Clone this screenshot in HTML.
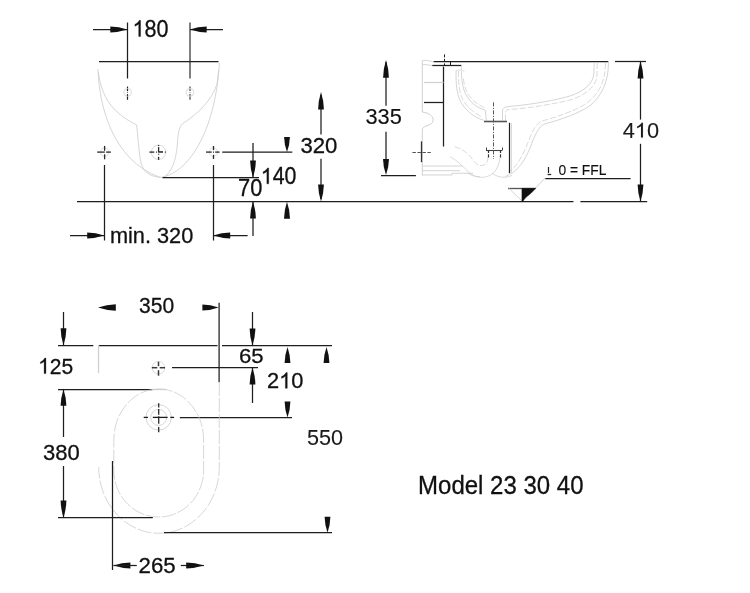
<!DOCTYPE html>
<html><head><meta charset="utf-8"><style>
html,body{margin:0;padding:0;background:#fff;}
body{width:750px;height:593px;overflow:hidden;position:relative;}
svg{position:absolute;left:0;top:0;will-change:transform;}
text{font-family:"Liberation Sans",sans-serif;}
</style></head><body>
<svg width="750" height="593" viewBox="0 0 750 593">
<rect width="750" height="593" fill="#fff"/>
<line x1="93" y1="29.5" x2="127" y2="29.5" stroke="#1e1e1e" stroke-width="1.25" />
<path d="M127.30 29.50 Q118.80 32.26 110.30 32.40 L110.30 26.60 Q118.80 26.75 127.30 29.50Z" fill="#111"/>
<line x1="190" y1="29.5" x2="223" y2="29.5" stroke="#1e1e1e" stroke-width="1.25" />
<path d="M189.70 29.50 Q198.20 32.26 206.70 32.40 L206.70 26.60 Q198.20 26.75 189.70 29.50Z" fill="#111"/>
<line x1="127.5" y1="22.5" x2="127.5" y2="78.5" stroke="#1e1e1e" stroke-width="1.25" />
<line x1="190" y1="22.5" x2="190" y2="78.5" stroke="#333" stroke-width="1.25" />
<line x1="127.5" y1="86.6" x2="127.5" y2="91.1" stroke="#1e1e1e" stroke-width="1.2" />
<line x1="127.5" y1="92" x2="127.5" y2="93" stroke="#777" stroke-width="1.0" />
<line x1="127.5" y1="94.1" x2="127.5" y2="99.8" stroke="#1e1e1e" stroke-width="1.2" />
<line x1="190" y1="86.6" x2="190" y2="91.1" stroke="#444" stroke-width="1.2" />
<line x1="190" y1="92" x2="190" y2="93" stroke="#888" stroke-width="1.0" />
<line x1="190" y1="94.1" x2="190" y2="99.8" stroke="#444" stroke-width="1.2" />
<line x1="99" y1="61.5" x2="218.5" y2="61.5" stroke="#1e1e1e" stroke-width="1.25" />
<circle cx="127.6" cy="92.4" r="3.9" stroke="#d8d8d8" stroke-width="0.9" fill="none"/>
<circle cx="190" cy="92.4" r="3.9" stroke="#d8d8d8" stroke-width="0.9" fill="none"/>
<path d="M98 69 C99 105 112 160 160 177.4" stroke="#d0d0d0" stroke-width="0.9" fill="none" />
<path d="M98.3 72 C99.5 82 103 95 110 104 C116 112 126 120 136.5 124.8 C137.5 130 138.5 150 140.5 160 C142 170 148 177 161.8 177.4" stroke="#d0d0d0" stroke-width="0.9" fill="none" />
<path d="M161 177.4 C192 172 216 125 219.4 63" stroke="#d0d0d0" stroke-width="0.9" fill="none" />
<path d="M164 177.2 C172 172 176 160 177.3 145 C178 135 178.5 128 182.3 123.8 C198 114 212 100 217 84 L218.7 70" stroke="#d0d0d0" stroke-width="0.9" fill="none" />
<circle cx="104.6" cy="152.1" r="4.2" stroke="#dadada" stroke-width="0.9" fill="none"/>
<circle cx="213.5" cy="152.1" r="4.2" stroke="#dadada" stroke-width="0.9" fill="none"/>
<circle cx="158.6" cy="152.3" r="7.2" stroke="#d6d6d6" stroke-width="0.9" fill="none"/>
<line x1="97.19999999999999" y1="152.1" x2="104.8" y2="152.1" stroke="#2a2a2a" stroke-width="1.3" />
<line x1="106.1" y1="152.1" x2="110.89999999999999" y2="152.1" stroke="#2a2a2a" stroke-width="1.3" />
<line x1="104.6" y1="145.9" x2="104.6" y2="150.79999999999998" stroke="#2a2a2a" stroke-width="1.3" />
<line x1="104.6" y1="154.29999999999998" x2="104.6" y2="159.29999999999998" stroke="#2a2a2a" stroke-width="1.3" />
<line x1="206.0" y1="152.1" x2="211.7" y2="152.1" stroke="#2a2a2a" stroke-width="1.3" />
<line x1="213.0" y1="152.1" x2="214.0" y2="152.1" stroke="#2a2a2a" stroke-width="1.3" />
<line x1="215.2" y1="152.1" x2="219.6" y2="152.1" stroke="#2a2a2a" stroke-width="1.3" />
<line x1="213.5" y1="146.0" x2="213.5" y2="150.1" stroke="#2a2a2a" stroke-width="1.3" />
<line x1="213.5" y1="154.79999999999998" x2="213.5" y2="159.0" stroke="#2a2a2a" stroke-width="1.3" />
<line x1="149.4" y1="152.1" x2="154.29999999999998" y2="152.1" stroke="#2a2a2a" stroke-width="1.3" />
<line x1="156.1" y1="152.1" x2="157.1" y2="152.1" stroke="#2a2a2a" stroke-width="1.3" />
<line x1="158.29999999999998" y1="152.1" x2="163.0" y2="152.1" stroke="#2a2a2a" stroke-width="1.3" />
<line x1="164.79999999999998" y1="152.1" x2="165.79999999999998" y2="152.1" stroke="#2a2a2a" stroke-width="1.3" />
<line x1="158.6" y1="144.9" x2="158.6" y2="145.9" stroke="#2a2a2a" stroke-width="1.3" />
<line x1="158.6" y1="147.1" x2="158.6" y2="152.1" stroke="#2a2a2a" stroke-width="1.3" />
<line x1="158.6" y1="153.7" x2="158.6" y2="154.7" stroke="#2a2a2a" stroke-width="1.3" />
<line x1="158.6" y1="156.79999999999998" x2="158.6" y2="159.79999999999998" stroke="#2a2a2a" stroke-width="1.3" />
<line x1="158.6" y1="151.5" x2="163.0" y2="151.5" stroke="#2a2a2a" stroke-width="0.6" />
<line x1="222.2" y1="152" x2="292.3" y2="152" stroke="#1e1e1e" stroke-width="1.25" />
<line x1="162.5" y1="177.5" x2="259" y2="177.5" stroke="#1e1e1e" stroke-width="1.25" />
<line x1="104.5" y1="165" x2="104.5" y2="240.5" stroke="#1e1e1e" stroke-width="1.25" />
<line x1="213.5" y1="165" x2="213.5" y2="240.5" stroke="#1e1e1e" stroke-width="1.25" />
<line x1="77" y1="201.5" x2="573.5" y2="201.5" stroke="#1e1e1e" stroke-width="1.25" />
<line x1="580.4" y1="201.5" x2="647.2" y2="201.5" stroke="#1e1e1e" stroke-width="1.25" />
<line x1="70" y1="235.5" x2="104" y2="235.5" stroke="#1e1e1e" stroke-width="1.25" />
<path d="M104.20 235.50 Q95.70 238.25 87.20 238.40 L87.20 232.60 Q95.70 232.75 104.20 235.50Z" fill="#111"/>
<line x1="213" y1="235.5" x2="247.6" y2="235.5" stroke="#1e1e1e" stroke-width="1.25" />
<path d="M213.20 235.50 Q221.70 238.25 230.20 238.40 L230.20 232.60 Q221.70 232.75 213.20 235.50Z" fill="#111"/>
<line x1="253" y1="143" x2="253" y2="177" stroke="#1e1e1e" stroke-width="1.25" />
<path d="M253.00 177.50 Q255.75 169.00 255.90 160.50 L250.10 160.50 Q250.25 169.00 253.00 177.50Z" fill="#111"/>
<line x1="253" y1="202" x2="253" y2="236" stroke="#1e1e1e" stroke-width="1.25" />
<path d="M253.00 201.50 Q255.75 210.00 255.90 218.50 L250.10 218.50 Q250.25 210.00 253.00 201.50Z" fill="#111"/>
<path d="M287.00 152.00 Q289.75 144.50 289.90 137.00 L284.10 137.00 Q284.25 144.50 287.00 152.00Z" fill="#111"/>
<path d="M287.00 201.80 Q289.85 210.30 290.00 218.80 L284.00 218.80 Q284.15 210.30 287.00 201.80Z" fill="#111"/>
<line x1="321" y1="95" x2="321" y2="134.5" stroke="#1e1e1e" stroke-width="1.25" />
<path d="M321.00 92.10 Q323.75 100.80 323.90 109.50 L318.10 109.50 Q318.25 100.80 321.00 92.10Z" fill="#111"/>
<line x1="321" y1="158.8" x2="321" y2="199" stroke="#1e1e1e" stroke-width="1.25" />
<path d="M321.00 201.50 Q323.75 193.00 323.90 184.50 L318.10 184.50 Q318.25 193.00 321.00 201.50Z" fill="#111"/>
<text x="0" y="36.56" font-size="23.66" fill="#111" stroke="#111" stroke-width="0.3" transform="translate(132.55 0) scale(0.911 1)"> 80</text>
<path d="M763 0L583 0L583 1098Q518 1039 412 980Q306 920 222 890L222 1057Q373 1125 486 1221Q599 1318 646 1409L763 1409Z" fill="#111" stroke="#111" stroke-width="26.0" transform="translate(132.55 36.56) scale(0.01053 -0.01155)"/>
<text x="0" y="153.18" font-size="21.97" fill="#111" stroke="#111" stroke-width="0.3" transform="translate(300.41 0) scale(1.008 1)">320</text>
<text x="0" y="183.87" font-size="23.24" fill="#111" stroke="#111" stroke-width="0.3" transform="translate(260.77 0) scale(0.919 1)"> 40</text>
<path d="M763 0L583 0L583 1098Q518 1039 412 980Q306 920 222 890L222 1057Q373 1125 486 1221Q599 1318 646 1409L763 1409Z" fill="#111" stroke="#111" stroke-width="26.4" transform="translate(260.77 183.87) scale(0.01043 -0.01135)"/>
<text x="0" y="195.66" font-size="23.52" fill="#111" stroke="#111" stroke-width="0.3" transform="translate(238.11 0) scale(0.929 1)">70</text>
<text x="0" y="242.77" font-size="22.54" fill="#111" stroke="#111" stroke-width="0.3" transform="translate(109.89 0) scale(0.965 1)">min. 320</text>
<line x1="433.6" y1="61.5" x2="608.3" y2="61.5" stroke="#1e1e1e" stroke-width="1.25" />
<line x1="615" y1="61.5" x2="646" y2="61.5" stroke="#1e1e1e" stroke-width="1.25" />
<line x1="432.3" y1="65.5" x2="461.3" y2="65.5" stroke="#1e1e1e" stroke-width="1.25" />
<line x1="444.5" y1="54.4" x2="444.5" y2="65" stroke="#1e1e1e" stroke-width="1.0" stroke-dasharray="3 1.5"/>
<line x1="450.5" y1="61" x2="450.5" y2="65.5" stroke="#1e1e1e" stroke-width="1.0" />
<line x1="443.5" y1="66.6" x2="443.5" y2="146.5" stroke="#1e1e1e" stroke-width="1.25" />
<line x1="424" y1="102.5" x2="443.5" y2="102.5" stroke="#1e1e1e" stroke-width="1.25" />
<line x1="424" y1="82.5" x2="443.5" y2="82.5" stroke="#d0d0d0" stroke-width="1.25" />
<path d="M422.3 60.5 L422.3 112 C430 113 434 117 433 121 C432 126 424 125 422.3 129 L422.3 175.6" stroke="#d0d0d0" stroke-width="1.0" fill="none" />
<path d="M422.7 60.5 C426 60 429 60.5 433 61.8" stroke="#d0d0d0" stroke-width="0.9" fill="none" />
<path d="M422.7 64.5 C426 64.5 429 65 432 65.5" stroke="#d0d0d0" stroke-width="0.9" fill="none" />
<line x1="421.5" y1="141.4" x2="421.5" y2="162.2" stroke="#333" stroke-width="1.3" />
<line x1="412.4" y1="152.5" x2="430.8" y2="152.5" stroke="#555" stroke-width="1.1" stroke-dasharray="3.5 1.5"/>
<line x1="386" y1="62" x2="386" y2="105.7" stroke="#1e1e1e" stroke-width="1.25" />
<path d="M386.00 60.10 Q388.75 68.95 388.90 77.80 L383.10 77.80 Q383.25 68.95 386.00 60.10Z" fill="#111"/>
<line x1="386" y1="131.7" x2="386" y2="160" stroke="#1e1e1e" stroke-width="1.25" />
<path d="M386.00 175.00 Q388.85 167.00 389.00 159.00 L383.00 159.00 Q383.15 167.00 386.00 175.00Z" fill="#111"/>
<line x1="381" y1="175.5" x2="415.9" y2="175.5" stroke="#1e1e1e" stroke-width="1.25" />
<text x="0" y="124.28" font-size="22.25" fill="#111" stroke="#111" stroke-width="0.15" transform="translate(365.43 0) scale(0.978 1)">335</text>
<path d="M456.2 69.9 C455.5 85 457 98 463.4 106 C468 112 474 117 483.5 120.3" stroke="#d0d0d0" stroke-width="0.9" fill="none" />
<path d="M458.4 71 C458.5 85 460 95 463 100 C467 107 474 113 482 117" stroke="#d0d0d0" stroke-width="0.8" fill="none" stroke-dasharray="6 2"/>
<path d="M461.2 71 C462 85 464 93 468 98 C472 104 478 108 485.3 110.4 L486.4 120.5" stroke="#d0d0d0" stroke-width="0.9" fill="none" />
<path d="M463.4 78.6 C464.5 88 467 94 471 98 C474 102 479 105 485.8 108.5" stroke="#d0d0d0" stroke-width="0.8" fill="none" stroke-dasharray="6 2"/>
<path d="M456.8 70.8 C458 69.5 462 69.5 464.4 71.5" stroke="#d0d0d0" stroke-width="0.8" fill="none" />
<line x1="461.5" y1="66" x2="461.5" y2="70" stroke="#d0d0d0" stroke-width="0.8" />
<path d="M502.5 120.5 L502.5 110 C503 107.5 506 106.5 514 106 C535 104 556 100 570 96 C585 91 593 83 593.8 74 L594.3 62" stroke="#d0d0d0" stroke-width="0.9" fill="none" />
<path d="M505.5 120.5 L505.5 111.5 C506 110 508 109.5 516 109 C537 107 558 103 572 99.5 C587 94 596 86 597 76 L597.1 63" stroke="#d0d0d0" stroke-width="0.8" fill="none" stroke-dasharray="6 2"/>
<path d="M608.5 62 C608.5 80 603 95 590 105.6 C580 113 560 120 545 123.8 C538 127 535 135 530 148 C525 160 518 172 505 176.6" stroke="#d0d0d0" stroke-width="0.9" fill="none" />
<path d="M605.5 63 C605.5 80 600 93 587 103 C577 110 557 117 542 121 C535 124 532 132 527 145 C522 157 516 168 508 172.5" stroke="#d0d0d0" stroke-width="0.8" fill="none" stroke-dasharray="6 2"/>
<path d="M422.3 166 L462.7 166 M422.3 170.7 L460 170.7 M422.3 175 L452 175 L452 173.3 L473 173.3" stroke="#d0d0d0" stroke-width="0.9" fill="none" />
<path d="M454.7 146.7 C462 149 468 153 472 158.7 C475 163 478 166 482 165.5 C486 165 488 162 488 157" stroke="#d0d0d0" stroke-width="0.8" fill="none" stroke-dasharray="6 2"/>
<path d="M450 156.7 C457 160 462 166 466.7 170 C472 176 478 177.5 483 177.3 C490 176.5 494.7 173 497 168 C499 164 500 160 500 156.7" stroke="#d0d0d0" stroke-width="0.8" fill="none" />
<path d="M466.7 172.7 C472 176 476 177 480 176.7 M492 173.3 C496 176 500 177.3 504 177.3 C508 177 511 176 512 175.3" stroke="#d0d0d0" stroke-width="0.8" fill="none" />
<line x1="511.5" y1="123" x2="511.5" y2="173" stroke="#d0d0d0" stroke-width="0.8" />
<line x1="484" y1="121.5" x2="507" y2="121.5" stroke="#555" stroke-width="1.6" />
<line x1="509.5" y1="122.8" x2="509.5" y2="173.2" stroke="#1e1e1e" stroke-width="1.2" />
<line x1="493.5" y1="102.4" x2="493.5" y2="159" stroke="#555" stroke-width="1.0" stroke-dasharray="4 1.5 1 1.5"/>
<line x1="486" y1="150.5" x2="502" y2="150.5" stroke="#444" stroke-width="1.1" />
<line x1="486.5" y1="147.5" x2="486.5" y2="150.5" stroke="#444" stroke-width="1.0" />
<line x1="502.5" y1="147.5" x2="502.5" y2="150.5" stroke="#444" stroke-width="1.0" />
<line x1="488.5" y1="150.5" x2="488.5" y2="153" stroke="#333" stroke-width="1.2" />
<line x1="488.5" y1="154.3" x2="488.5" y2="157.5" stroke="#333" stroke-width="1.2" />
<line x1="500.5" y1="150.5" x2="500.5" y2="153" stroke="#333" stroke-width="1.2" />
<line x1="500.5" y1="154.3" x2="500.5" y2="157.5" stroke="#333" stroke-width="1.2" />
<line x1="545.2" y1="178.5" x2="630.6" y2="178.5" stroke="#1e1e1e" stroke-width="1.25" />
<line x1="535.5" y1="188" x2="545.2" y2="178" stroke="#d0d0d0" stroke-width="1.0" />
<line x1="508" y1="188.5" x2="535.5" y2="188.5" stroke="#555" stroke-width="1.3" />
<path d="M508.5 188 L522 201" stroke="#d0d0d0" stroke-width="0.9" fill="none" />
<path d="M521.9 188.3 L535.8 188.3 C533 191.5 530 194.5 527 196.5 C525 198 523.8 200 523 201.5 L521.9 201.5 Z" stroke="#111" stroke-width="0.4" fill="#111" />
<line x1="548.5" y1="167" x2="548.5" y2="173" stroke="#222" stroke-width="1.2" />
<line x1="547.6" y1="174.5" x2="551.2" y2="174.5" stroke="#222" stroke-width="1.3" />
<text x="0" y="175.25" font-size="15.49" fill="#111" stroke="#111" stroke-width="0.15" transform="translate(558.45 0) scale(0.892 1)">0 = FFL</text>
<line x1="640.5" y1="62" x2="640.5" y2="119.6" stroke="#1e1e1e" stroke-width="1.25" />
<path d="M640.50 61.50 Q643.25 70.00 643.40 78.50 L637.60 78.50 Q637.75 70.00 640.50 61.50Z" fill="#111"/>
<line x1="640.5" y1="143.8" x2="640.5" y2="201" stroke="#1e1e1e" stroke-width="1.25" />
<path d="M640.50 201.50 Q643.25 193.00 643.40 184.50 L637.60 184.50 Q637.75 193.00 640.50 201.50Z" fill="#111"/>
<text x="0" y="137.58" font-size="21.69" fill="#1a1a1a" stroke="#1a1a1a" stroke-width="0.1" transform="translate(622.65 0) scale(1.005 1)">4 0</text>
<path d="M763 0L583 0L583 1098Q518 1039 412 980Q306 920 222 890L222 1057Q373 1125 486 1221Q599 1318 646 1409L763 1409Z" fill="#1a1a1a" stroke="#1a1a1a" stroke-width="9.4" transform="translate(634.78 137.58) scale(0.01065 -0.01059)"/>
<path d="M98.00 307.50 Q106.90 310.54 115.80 310.70 L115.80 304.30 Q106.90 304.46 98.00 307.50Z" fill="#111"/>
<path d="M218.60 307.50 Q210.50 310.44 202.40 310.60 L202.40 304.40 Q210.50 304.56 218.60 307.50Z" fill="#111"/>
<line x1="219.1" y1="302.7" x2="219.1" y2="382.3" stroke="#1e1e1e" stroke-width="1.25" />
<line x1="63.5" y1="312" x2="63.5" y2="345" stroke="#1e1e1e" stroke-width="1.25" />
<path d="M63.50 345.20 Q66.25 336.70 66.40 328.20 L60.60 328.20 Q60.74 336.70 63.50 345.20Z" fill="#111"/>
<line x1="58" y1="345.5" x2="93.3" y2="345.5" stroke="#1e1e1e" stroke-width="1.25" />
<line x1="98" y1="345.5" x2="217.5" y2="345.5" stroke="#1e1e1e" stroke-width="1.25" />
<line x1="222" y1="345.5" x2="332" y2="345.5" stroke="#1e1e1e" stroke-width="1.25" />
<line x1="98.5" y1="345" x2="98.5" y2="373" stroke="#cfcfcf" stroke-width="1.25" />
<circle cx="158.5" cy="367.7" r="6.3" stroke="#d8d8d8" stroke-width="0.9" fill="none"/>
<line x1="151.8" y1="367.7" x2="157.3" y2="367.7" stroke="#3a3a3a" stroke-width="1.5" />
<line x1="159.7" y1="367.7" x2="165.0" y2="367.7" stroke="#3a3a3a" stroke-width="1.5" />
<line x1="158.5" y1="361.7" x2="158.5" y2="366.2" stroke="#3a3a3a" stroke-width="1.5" />
<line x1="158.5" y1="370.2" x2="158.5" y2="375.7" stroke="#3a3a3a" stroke-width="1.5" />
<line x1="172" y1="367.5" x2="258" y2="367.5" stroke="#1e1e1e" stroke-width="1.25" />
<line x1="252.5" y1="312" x2="252.5" y2="345" stroke="#1e1e1e" stroke-width="1.25" />
<path d="M252.50 345.40 Q255.25 336.90 255.40 328.40 L249.60 328.40 Q249.75 336.90 252.50 345.40Z" fill="#111"/>
<line x1="252.5" y1="367.4" x2="252.5" y2="403" stroke="#1e1e1e" stroke-width="1.25" />
<path d="M252.50 367.40 Q255.25 375.90 255.40 384.40 L249.60 384.40 Q249.75 375.90 252.50 367.40Z" fill="#111"/>
<path d="M287.50 347.00 Q290.25 355.00 290.40 363.00 L284.60 363.00 Q284.75 355.00 287.50 347.00Z" fill="#111"/>
<path d="M326.50 347.00 Q329.25 355.00 329.40 363.00 L323.60 363.00 Q323.75 355.00 326.50 347.00Z" fill="#111"/>
<line x1="58" y1="389.5" x2="152.5" y2="389.5" stroke="#1e1e1e" stroke-width="1.25" />
<line x1="152.5" y1="389.5" x2="166.5" y2="389.5" stroke="#ccc" stroke-width="1.25" />
<line x1="58" y1="417.5" x2="292" y2="417.5" stroke="none" stroke-width="1.25" />
<line x1="179.8" y1="417.5" x2="292" y2="417.5" stroke="#1e1e1e" stroke-width="1.25" />
<path d="M158.7 389 C183.6 389 203.6 412 203.6 440 L203.6 470 C203.6 496 183.6 517 158.7 517 C133.8 517 113.8 496 113.8 470 L113.8 440 C113.8 412 133.8 389 158.7 389 Z" stroke="#cdcdcd" stroke-width="0.8" fill="none" stroke-dasharray="14 2"/>
<path d="M219.3 382 L219.3 467 C219.3 503.5 192.4 533.3 159 533.3 C125.6 533.3 98.7 503.5 98.7 467" stroke="#cdcdcd" stroke-width="0.8" fill="none" stroke-dasharray="14 2"/>
<circle cx="158.7" cy="417.4" r="12.7" stroke="#d2d2d2" stroke-width="0.9" fill="none"/>
<circle cx="158.7" cy="417.4" r="8" stroke="#d2d2d2" stroke-width="0.9" fill="none"/>
<line x1="143.7" y1="417.4" x2="147.9" y2="417.4" stroke="#1a1a1a" stroke-width="1.3" />
<line x1="152.8" y1="417.4" x2="167.6" y2="417.4" stroke="#1a1a1a" stroke-width="1.3" />
<line x1="170.3" y1="417.4" x2="174.1" y2="417.4" stroke="#1a1a1a" stroke-width="1.3" />
<line x1="158.7" y1="403.3" x2="158.7" y2="407.5" stroke="#2a2a2a" stroke-width="1.3" />
<line x1="158.7" y1="409" x2="158.7" y2="414.7" stroke="#2a2a2a" stroke-width="1.3" />
<line x1="158.7" y1="416.2" x2="158.7" y2="423.8" stroke="#2a2a2a" stroke-width="1.3" />
<line x1="158.7" y1="426.9" x2="158.7" y2="432.2" stroke="#2a2a2a" stroke-width="1.3" />
<line x1="58" y1="517.5" x2="152.8" y2="517.5" stroke="#1e1e1e" stroke-width="1.25" />
<line x1="63.5" y1="389" x2="63.5" y2="437" stroke="#1e1e1e" stroke-width="1.25" />
<path d="M63.50 389.50 Q66.25 397.65 66.40 405.80 L60.60 405.80 Q60.74 397.65 63.50 389.50Z" fill="#111"/>
<line x1="63.5" y1="466" x2="63.5" y2="517" stroke="#1e1e1e" stroke-width="1.25" />
<path d="M63.50 517.50 Q66.25 509.00 66.40 500.50 L60.60 500.50 Q60.74 509.00 63.50 517.50Z" fill="#111"/>
<line x1="164" y1="532.5" x2="332" y2="532.5" stroke="#1e1e1e" stroke-width="1.25" />
<path d="M327.50 532.80 Q330.25 524.80 330.40 516.80 L324.60 516.80 Q324.75 524.80 327.50 532.80Z" fill="#111"/>
<path d="M287.50 417.40 Q290.25 409.40 290.40 401.40 L284.60 401.40 Q284.75 409.40 287.50 417.40Z" fill="#111"/>
<line x1="112.5" y1="461" x2="112.5" y2="570" stroke="#1e1e1e" stroke-width="1.25" />
<path d="M113.40 565.50 Q121.90 568.25 130.40 568.40 L130.40 562.60 Q121.90 562.75 113.40 565.50Z" fill="#111"/>
<line x1="113.4" y1="565.5" x2="136.8" y2="565.5" stroke="#1e1e1e" stroke-width="1.25" />
<line x1="180.8" y1="565.5" x2="203.9" y2="565.5" stroke="#1e1e1e" stroke-width="1.25" />
<path d="M203.90 565.50 Q195.05 568.25 186.20 568.40 L186.20 562.60 Q195.05 562.75 203.90 565.50Z" fill="#111"/>
<text x="0" y="313.27" font-size="22.68" fill="#111" stroke="#111" stroke-width="0.3" transform="translate(138.96 0) scale(0.929 1)">350</text>
<text x="0" y="373.57" font-size="22.54" fill="#111" stroke="#111" stroke-width="0.3" transform="translate(38.11 0) scale(0.934 1)"> 25</text>
<path d="M763 0L583 0L583 1098Q518 1039 412 980Q306 920 222 890L222 1057Q373 1125 486 1221Q599 1318 646 1409L763 1409Z" fill="#111" stroke="#111" stroke-width="27.3" transform="translate(38.11 373.57) scale(0.01027 -0.01100)"/>
<text x="0" y="362.99" font-size="20.99" fill="#111" stroke="#111" stroke-width="0.3" transform="translate(238.89 0) scale(1.056 1)">65</text>
<text x="0" y="388.37" font-size="22.96" fill="#111" stroke="#111" stroke-width="0.3" transform="translate(267.01 0) scale(0.951 1)">2 0</text>
<path d="M763 0L583 0L583 1098Q518 1039 412 980Q306 920 222 890L222 1057Q373 1125 486 1221Q599 1318 646 1409L763 1409Z" fill="#111" stroke="#111" stroke-width="26.8" transform="translate(279.15 388.37) scale(0.01066 -0.01121)"/>
<text x="0" y="459.57" font-size="22.54" fill="#111" stroke="#111" stroke-width="0.3" transform="translate(42.92 0) scale(0.977 1)">380</text>
<text x="0" y="445.39" font-size="21.27" fill="#1a1a1a" stroke="#1a1a1a" stroke-width="0.1" transform="translate(306.93 0) scale(1.017 1)">550</text>
<text x="0" y="572.88" font-size="22.11" fill="#111" stroke="#111" stroke-width="0.3" transform="translate(138.49 0) scale(1.008 1)">265</text>
<text x="0" y="494.14" font-size="25.71" fill="#111" stroke="#111" stroke-width="0.3" transform="translate(418.08 0) scale(0.934 1)">Model 23 30 40</text>
</svg>
</body></html>
